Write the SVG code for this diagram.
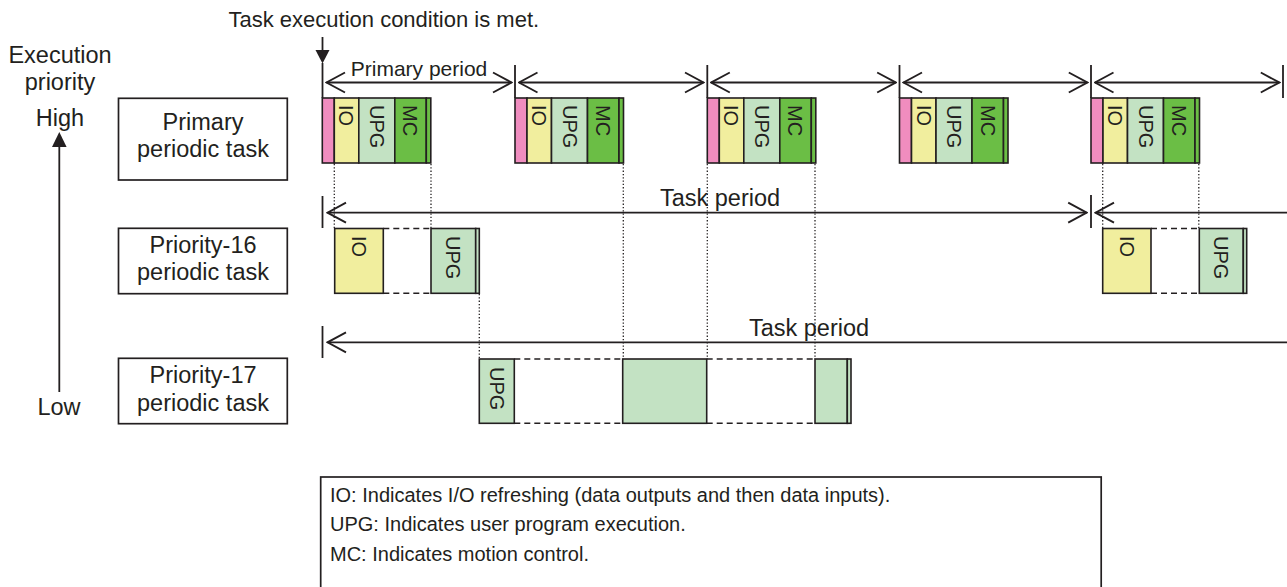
<svg xmlns="http://www.w3.org/2000/svg" xmlns:xlink="http://www.w3.org/1999/xlink" width="1287" height="587" viewBox="0 0 1287 587">
<style>
.t{font-family:"Liberation Sans",Arial,sans-serif;fill:#231F20}
.f23{font-size:23.5px}
.f20{font-size:20px}
.box{fill:#fff;stroke:#231F20;stroke-width:1.7}
.blk{stroke:#231F20;stroke-width:1.6}
.pk{fill:#F08DBF}
.io{fill:#F1EE9E}
.upg{fill:#C3E2C3}
.mc{fill:#6BBE45}
.ln{stroke:#231F20;stroke-width:1.8;fill:none}
.dash{stroke:#231F20;stroke-width:1.6;stroke-dasharray:6 4;fill:none}
.dot{stroke:#231F20;stroke-width:1.3;stroke-dasharray:1.3 2;fill:none}
</style>
<defs>
<marker id="open" viewBox="0 0 21 24" refX="19.5" refY="12" markerWidth="21" markerHeight="24" markerUnits="userSpaceOnUse" orient="auto-start-reverse">
<path d="M1,2 L19.5,12 L1,22" fill="none" stroke="#231F20" stroke-width="1.9"/>
</marker>
<g id="pblock">
<rect class="blk pk" x="0" y="0" width="12" height="65"/>
<rect class="blk io" x="12" y="0" width="24.5" height="65"/>
<rect class="blk upg" x="36.5" y="0" width="36" height="65"/>
<rect class="blk mc" x="72.5" y="0" width="31.5" height="65"/>
<rect class="blk mc" x="104" y="0" width="4.5" height="65"/>
<text class="t f20" transform="translate(17,7) rotate(90)">IO</text>
<text class="t f20" transform="translate(47.5,7) rotate(90)">UPG</text>
<text class="t f20" transform="translate(81,7) rotate(90)">MC</text>
</g>
</defs>
<rect width="1287" height="587" fill="#fff"/>

<g id="title">
<text class="t" font-size="22" x="228.5" y="27.3">Task execution condition is met.</text>
</g>

<g id="priority-axis">
<text class="t f23" x="60" y="62.7" text-anchor="middle">Execution</text>
<text class="t f23" x="60" y="90" text-anchor="middle">priority</text>
<text class="t f23" x="60" y="126" text-anchor="middle">High</text>
<text class="t f23" x="59" y="415" text-anchor="middle">Low</text>
<line class="ln" x1="59.3" y1="145" x2="59.3" y2="392"/>
<path d="M52,147 L66.6,147 L59.3,132 Z" fill="#231F20"/>
</g>

<g id="task-primary">
<rect class="box" x="118.5" y="98.3" width="168.8" height="81.7"/>
<text class="t f23" x="203" y="130" text-anchor="middle">Primary</text>
<text class="t f23" x="203" y="157" text-anchor="middle">periodic task</text>
</g>
<g id="task-p16">
<rect class="box" x="118.5" y="228.3" width="168.8" height="65.4"/>
<text class="t f23" x="203" y="253" text-anchor="middle">Priority-16</text>
<text class="t f23" x="203" y="280" text-anchor="middle">periodic task</text>
</g>
<g id="task-p17">
<rect class="box" x="118.5" y="358.3" width="168.8" height="65.4"/>
<text class="t f23" x="203" y="383" text-anchor="middle">Priority-17</text>
<text class="t f23" x="203" y="411" text-anchor="middle">periodic task</text>
</g>

<g id="connectors">
<line class="ln" x1="322.5" y1="37" x2="322.5" y2="52"/>
<path d="M315.5,50 L329.5,50 L322.5,63.5 Z" fill="#231F20"/>
<line class="ln" x1="322.5" y1="63" x2="322.5" y2="98"/>
<line class="ln" x1="515" y1="65" x2="515" y2="98"/>
<line class="ln" x1="707.3" y1="65" x2="707.3" y2="98"/>
<line class="ln" x1="899.5" y1="65" x2="899.5" y2="98"/>
<line class="ln" x1="1091" y1="65" x2="1091" y2="98"/>
<line class="ln" x1="1283" y1="65" x2="1283" y2="98"/>
<line class="ln" x1="326.5" y1="82.5" x2="511.5" y2="82.5" marker-start="url(#open)" marker-end="url(#open)"/>
<line class="ln" x1="519" y1="82.5" x2="703.5" y2="82.5" marker-start="url(#open)" marker-end="url(#open)"/>
<line class="ln" x1="711.3" y1="82.5" x2="895.7" y2="82.5" marker-start="url(#open)" marker-end="url(#open)"/>
<line class="ln" x1="903.5" y1="82.5" x2="1087.3" y2="82.5" marker-start="url(#open)" marker-end="url(#open)"/>
<line class="ln" x1="1095" y1="82.5" x2="1279.3" y2="82.5" marker-start="url(#open)" marker-end="url(#open)"/>
<line class="ln" x1="322.5" y1="196" x2="322.5" y2="228"/>
<line class="ln" x1="1091" y1="195" x2="1091" y2="228"/>
<line class="ln" x1="327.5" y1="212.7" x2="1086.7" y2="212.7" marker-start="url(#open)" marker-end="url(#open)"/>
<line class="ln" x1="1095.5" y1="212.7" x2="1290" y2="212.7" marker-start="url(#open)"/>
<line class="ln" x1="322.5" y1="326" x2="322.5" y2="358"/>
<line class="ln" x1="327.5" y1="342.3" x2="1290" y2="342.3" marker-start="url(#open)"/>
<line class="dot" x1="334.3" y1="164" x2="334.3" y2="228"/>
<line class="dot" x1="431" y1="164" x2="431" y2="228"/>
<line class="dot" x1="479.3" y1="294" x2="479.3" y2="359"/>
<line class="dot" x1="623.3" y1="164" x2="623.3" y2="359"/>
<line class="dot" x1="707.3" y1="164" x2="707.3" y2="359"/>
<line class="dot" x1="815" y1="164" x2="815" y2="359"/>
<line class="dot" x1="1102.7" y1="164" x2="1102.7" y2="228"/>
<line class="dot" x1="1198.8" y1="164" x2="1198.8" y2="228"/>
<line class="dash" x1="383.3" y1="228.5" x2="431" y2="228.5"/>
<line class="dash" x1="383.3" y1="293.3" x2="431" y2="293.3"/>
<line class="dash" x1="1151" y1="228.5" x2="1199.3" y2="228.5"/>
<line class="dash" x1="1151" y1="293.3" x2="1199.3" y2="293.3"/>
<line class="dash" x1="514.3" y1="359" x2="622.7" y2="359"/>
<line class="dash" x1="514.3" y1="423.3" x2="622.7" y2="423.3"/>
<line class="dash" x1="706.7" y1="359" x2="815" y2="359"/>
<line class="dash" x1="706.7" y1="423.3" x2="815" y2="423.3"/>
</g>

<g id="period-labels">
<text class="t" font-size="21" x="419" y="75.5" text-anchor="middle">Primary period</text>
<text class="t f23" x="720" y="206" text-anchor="middle">Task period</text>
<text class="t f23" x="809" y="335.5" text-anchor="middle">Task period</text>
</g>

<g id="primary-run-1" transform="translate(322.3,98)"><use xlink:href="#pblock"/></g>
<g id="primary-run-2" transform="translate(515,98)"><use xlink:href="#pblock"/></g>
<g id="primary-run-3" transform="translate(707.3,98)"><use xlink:href="#pblock"/></g>
<g id="primary-run-4" transform="translate(899.5,98)"><use xlink:href="#pblock"/></g>
<g id="primary-run-5" transform="translate(1091,98)"><use xlink:href="#pblock"/></g>

<g id="p16-run-1">
<rect class="blk io" x="334.7" y="228.5" width="48.6" height="64.8"/>
<text class="t f20" transform="translate(351.8,236) rotate(90)">IO</text>
<rect class="blk upg" x="431" y="228.5" width="44.7" height="64.8"/>
<rect class="blk upg" x="475.7" y="228.5" width="3.6" height="64.8"/>
<text class="t f20" transform="translate(446,236) rotate(90)">UPG</text>
</g>
<g id="p16-run-2">
<rect class="blk io" x="1102.7" y="228.5" width="48.3" height="64.8"/>
<text class="t f20" transform="translate(1119.6,236) rotate(90)">IO</text>
<rect class="blk upg" x="1199.3" y="228.5" width="44" height="64.8"/>
<rect class="blk upg" x="1243.3" y="228.5" width="3.4" height="64.8"/>
<text class="t f20" transform="translate(1214,236) rotate(90)">UPG</text>
</g>
<g id="p17-run">
<rect class="blk upg" x="479.3" y="359" width="35" height="64.3"/>
<text class="t f20" transform="translate(489.8,367) rotate(90)">UPG</text>
<rect class="blk upg" x="622.7" y="359" width="84" height="64.3"/>
<rect class="blk upg" x="815" y="359" width="32.3" height="64.3"/>
<rect class="blk upg" x="847.3" y="359" width="3.7" height="64.3"/>
</g>

<g id="legend">
<rect x="320.7" y="477" width="780.5" height="120" fill="#fff" stroke="#231F20" stroke-width="1.7"/>
<text class="t f20" x="330" y="501.5">IO: Indicates I/O refreshing (data outputs and then data inputs).</text>
<text class="t f20" x="330" y="530.7">UPG: Indicates user program execution.</text>
<text class="t f20" x="330" y="560.5">MC: Indicates motion control.</text>
</g>
</svg>
